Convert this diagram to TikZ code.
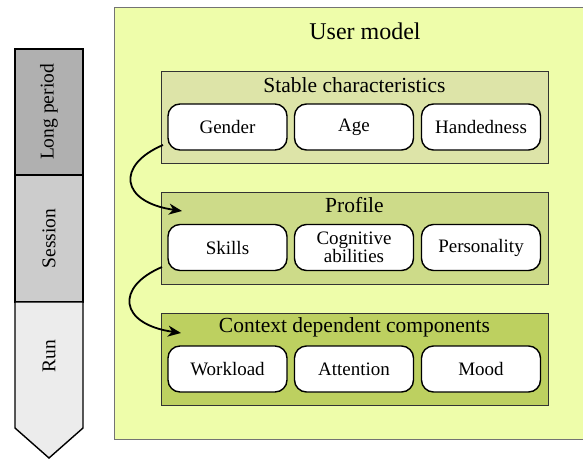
\documentclass[tikz,border=0pt]{standalone}
\usepackage{fontspec}
\setmainfont{Liberation Serif}
\usetikzlibrary{arrows.meta}
\definecolor{outerfill}{RGB}{238,253,170}
\definecolor{stablefill}{RGB}{221,228,168}
\definecolor{profilefill}{RGB}{205,219,137}
\definecolor{contextfill}{RGB}{189,208,96}
\definecolor{longfill}{RGB}{176,176,176}
\definecolor{sessionfill}{RGB}{204,204,204}
\definecolor{runfill}{RGB}{236,236,236}
\tikzset{
  item/.style={draw=black, line width=1.4pt, fill=white, rounded corners=12pt,
    minimum width=119pt, minimum height=46pt, align=center, inner sep=1pt,
    font=\fontsize{19}{19}\selectfont},
  group/.style={draw=black!80, line width=0.9pt, minimum width=387pt, minimum height=92pt},
  gtitle/.style={font=\fontsize{21.5}{23}\selectfont, inner sep=0pt},
  band/.style={draw=black, line width=1.4pt},
  bandlabel/.style={rotate=90, font=\fontsize{19.5}{21}\selectfont, inner sep=0pt},
  flow/.style={-{Stealth[length=13pt,width=11pt,inset=4pt]}, line width=1.8pt},
}
\begin{document}
\begin{tikzpicture}[x=1pt,y=-1pt]
\clip (0,0) rectangle (583,461);
\fill[white] (0,0) rectangle (583,461);
% outer user model box
\draw[draw=black!55, line width=1pt, fill=outerfill] (114,7) rectangle (600,439);
\node[font=\fontsize{24}{26}\selectfont, inner sep=0pt] (title) at (365,31) {User model};
% groups
\node[group, fill=stablefill] (stable) at (354.5,117) {};
\node[group, fill=profilefill] (profile) at (354.5,238) {};
\node[group, fill=contextfill] (context) at (354.5,359.5) {};
\node[gtitle] (stabletitle) at (354.5,85) {Stable characteristics};
\node[gtitle] (profiletitle) at (354.5,205) {Profile};
\node[gtitle] (contexttitle) at (354.5,327) {Context dependent components};
% items
\node[item] (gender) at (227.5,127) {Gender};
\node[item] (age) at (354,127) {Age};
\node[item] (hand) at (481,127) {Handedness};
\node[item] (skills) at (227.5,247.5) {Skills};
\node[item, font=\fontsize{19}{17}\selectfont] (cog) at (354,247.5) {Cognitive\\abilities};
\node[item] (pers) at (481,247.5) {Personality};
\node[item] (work) at (227.5,369) {Workload};
\node[item] (att) at (354,369) {Attention};
\node[item] (mood) at (481,369) {Mood};
% curved arrows
\coordinate (a1s) at (163,145);
\coordinate (a1e) at (182,211);
\coordinate (a2s) at (162,267);
\coordinate (a2e) at (181,333);
\draw[flow] (a1s) .. controls (116,165) and (120,202) .. (a1e);
\draw[flow] (a2s) .. controls (115,287) and (119,324) .. (a2e);
% time arrow
\draw[band, fill=longfill] (15,49) rectangle (83,175);
\draw[band, fill=sessionfill] (15,175) rectangle (83,302);
\draw[band, fill=runfill] (15,302) -- (83,302) -- (83,428) -- (49,458) -- (15,428) -- cycle;
\node[bandlabel] (long) at (49,112) {Long period};
\node[bandlabel] (session) at (49,238.5) {Session};
\node[bandlabel] (run) at (49,356) {Run};
\end{tikzpicture}
\end{document}
